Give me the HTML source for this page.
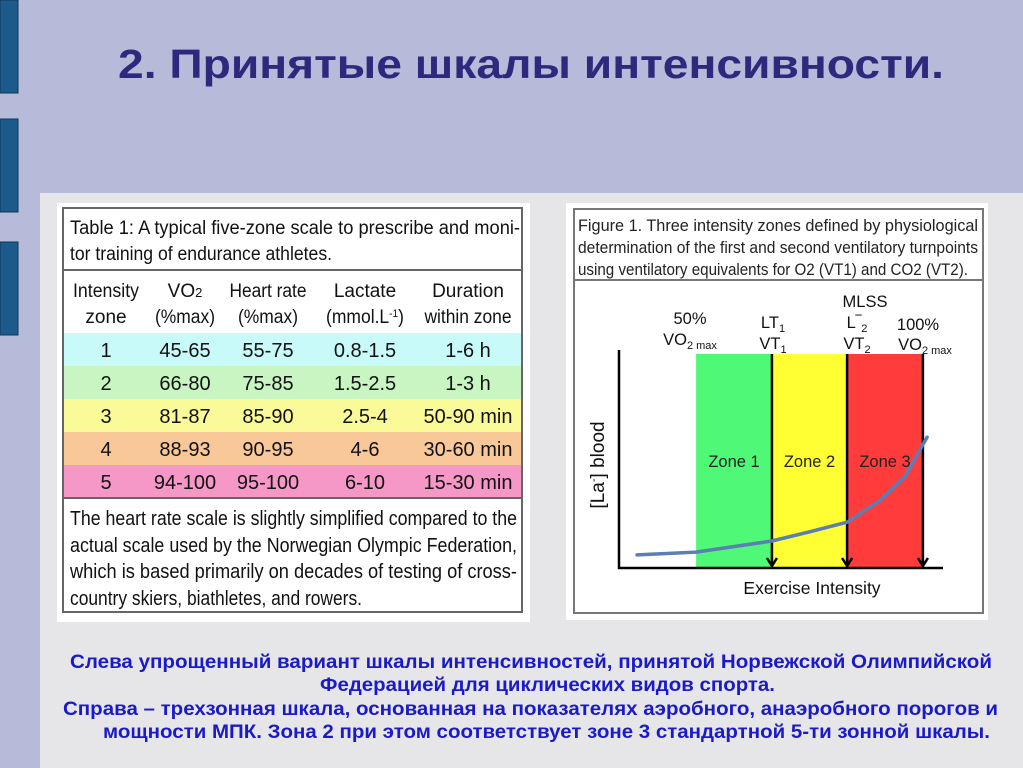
<!DOCTYPE html>
<html><head><meta charset="utf-8"><style>
html,body{margin:0;padding:0;background:#b6bbd9;}
svg{display:block;font-family:"Liberation Sans","DejaVu Sans",sans-serif;}
</style></head><body>
<svg width="1023" height="768" viewBox="0 0 1023 768" xmlns="http://www.w3.org/2000/svg">
<rect x="0" y="0" width="1023" height="768" fill="#b6bbd9"/>
<rect x="0" y="0" width="18" height="93" fill="#1d5a8c" stroke="#0e3556"/>
<rect x="0" y="119" width="18" height="93" fill="#1d5a8c" stroke="#0e3556"/>
<rect x="0" y="242" width="18" height="93" fill="#1d5a8c" stroke="#0e3556"/>
<text x="118" y="78" font-size="41" font-weight="bold" fill="#2d2a7e" textLength="826" lengthAdjust="spacingAndGlyphs">2. Принятые шкалы интенсивности.</text>
<rect x="40" y="193" width="983" height="575" fill="#e6e6e8"/>

<!-- Table -->
<g font-size="19" fill="#111">
<rect x="57" y="203" width="473" height="419" fill="#fff"/>
<rect x="63" y="333" width="459" height="33" fill="#c9fafa"/>
<rect x="63" y="366" width="459" height="33" fill="#c9f5c3"/>
<rect x="63" y="399" width="459" height="33" fill="#fafa98"/>
<rect x="63" y="432" width="459" height="33" fill="#f8c898"/>
<rect x="63" y="465" width="459" height="33" fill="#f598c8"/>
<rect x="63" y="208" width="459" height="404" fill="none" stroke="#666" stroke-width="2"/>
<line x1="63" y1="270" x2="522" y2="270" stroke="#666" stroke-width="2"/>
<line x1="63" y1="498" x2="522" y2="498" stroke="#666" stroke-width="2"/>
<text x="70" y="234" textLength="450" lengthAdjust="spacingAndGlyphs">Table 1: A typical five-zone scale to prescribe and moni-</text>
<text x="70" y="260" textLength="262" lengthAdjust="spacingAndGlyphs">tor training of endurance athletes.</text>
<g text-anchor="middle">
<text x="106" y="297" textLength="66" lengthAdjust="spacingAndGlyphs">Intensity</text><text x="106" y="323">zone</text>
<text x="185" y="297">VO<tspan font-size="13">2</tspan></text><text x="185" y="323" textLength="60" lengthAdjust="spacingAndGlyphs">(%max)</text>
<text x="268" y="297" textLength="77" lengthAdjust="spacingAndGlyphs">Heart rate</text><text x="268" y="323" textLength="60" lengthAdjust="spacingAndGlyphs">(%max)</text>
<text x="365" y="297">Lactate</text><text x="365" y="323" textLength="78" lengthAdjust="spacingAndGlyphs">(mmol.L<tspan font-size="11" dy="-6">-1</tspan><tspan dy="6">)</tspan></text>
<text x="468" y="297">Duration</text><text x="468" y="323" textLength="87" lengthAdjust="spacingAndGlyphs">within zone</text>
</g>
<g text-anchor="middle" font-size="20">
<text y="357"><tspan x="106">1</tspan><tspan x="185">45-65</tspan><tspan x="268">55-75</tspan><tspan x="365">0.8-1.5</tspan><tspan x="468">1-6 h</tspan></text>
<text y="390"><tspan x="106">2</tspan><tspan x="185">66-80</tspan><tspan x="268">75-85</tspan><tspan x="365">1.5-2.5</tspan><tspan x="468">1-3 h</tspan></text>
<text y="423"><tspan x="106">3</tspan><tspan x="185">81-87</tspan><tspan x="268">85-90</tspan><tspan x="365">2.5-4</tspan><tspan x="468">50-90 min</tspan></text>
<text y="456"><tspan x="106">4</tspan><tspan x="185">88-93</tspan><tspan x="268">90-95</tspan><tspan x="365">4-6</tspan><tspan x="468">30-60 min</tspan></text>
<text y="489"><tspan x="106">5</tspan><tspan x="185">94-100</tspan><tspan x="268">95-100</tspan><tspan x="365">6-10</tspan><tspan x="468">15-30 min</tspan></text>
</g>
<g font-size="20">
<text x="70" y="525" textLength="447" lengthAdjust="spacingAndGlyphs">The heart rate scale is slightly simplified compared to the</text>
<text x="70" y="552" textLength="447" lengthAdjust="spacingAndGlyphs">actual scale used by the Norwegian Olympic Federation,</text>
<text x="70" y="578" textLength="447" lengthAdjust="spacingAndGlyphs">which is based primarily on decades of testing of cross-</text>
<text x="70" y="605" textLength="292" lengthAdjust="spacingAndGlyphs">country skiers, biathletes, and rowers.</text>
</g>
</g>

<!-- Figure -->
<g>
<rect x="566" y="203" width="422" height="417" fill="#fff"/>
<rect x="574" y="209" width="409" height="404" fill="none" stroke="#777" stroke-width="2"/>
<line x1="574" y1="280" x2="983" y2="280" stroke="#777" stroke-width="2"/>
<g font-size="16.5" fill="#222">
<text x="578" y="231" textLength="400" lengthAdjust="spacingAndGlyphs">Figure 1. Three intensity zones defined by physiological</text>
<text x="578" y="253" textLength="400" lengthAdjust="spacingAndGlyphs">determination of the first and second ventilatory turnpoints</text>
<text x="578" y="275" textLength="390" lengthAdjust="spacingAndGlyphs">using ventilatory equivalents for O2 (VT1) and CO2 (VT2).</text>
</g>
<g id="chart"></g>
</g>

<g font-size="19" font-weight="bold" fill="#1a1ac8">
<text x="70" y="668" textLength="922" lengthAdjust="spacingAndGlyphs">Слева упрощенный вариант шкалы интенсивностей, принятой Норвежской Олимпийской</text>
<text x="320" y="691" textLength="455" lengthAdjust="spacingAndGlyphs">Федерацией для циклических видов спорта.</text>
<text x="63" y="715" textLength="935" lengthAdjust="spacingAndGlyphs">Справа – трехзонная шкала, основанная на показателях аэробного, анаэробного порогов и</text>
<text x="103" y="738" textLength="887" lengthAdjust="spacingAndGlyphs">мощности МПК. Зона 2 при этом соответствует зоне 3 стандартной 5-ти зонной шкалы.</text>
</g>
</svg>
<script>
const zoneNames = ["Zone 1", "Zone 2", "Zone 3"];
const zoneBounds = [23.8, 47.2, 70.4, 93.8];
const zoneColors = ["#4ff977", "#ffff33", "#ff3b3b"];
const curveIntensity = [5.6, 23.8, 47.2, 58.6, 70.4, 80.6, 88.3, 95.1];
const curveLactate = [0.6, 0.73, 1.24, 1.65, 2.1, 3.1, 4.2, 6.0];

const NS = "http://www.w3.org/2000/svg";
const g = document.getElementById("chart");
const X0 = 619, X1 = 943, Y0 = 568, Y1 = 350, ZTOP = 354;
const sx = v => X0 + (v / 100) * (X1 - X0);
const sy = v => Y0 - (v / 10) * (Y0 - Y1);
function mk(tag, attrs, parent) {
  const e = document.createElementNS(NS, tag);
  for (const k in attrs) e.setAttribute(k, attrs[k]);
  (parent || g).appendChild(e);
  return e;
}
for (let i = 0; i < zoneNames.length; i++) {
  const r = mk("rect", {x: sx(zoneBounds[i]), y: ZTOP, width: sx(zoneBounds[i+1]) - sx(zoneBounds[i]), height: Y0 - ZTOP, fill: zoneColors[i]});
  
  
  const t = mk("text", {x: (sx(zoneBounds[i]) + sx(zoneBounds[i+1])) / 2, y: 467, "text-anchor": "middle", "font-size": 16.5, fill: "#222"});
  t.textContent = zoneNames[i];
  
  
}
for (let i = 1; i < zoneBounds.length; i++) {
  const x = sx(zoneBounds[i]);
  const l = mk("line", {x1: x, y1: ZTOP, x2: x, y2: Y0 - 2, stroke: "#000", "stroke-width": 2.5});
  
  
  const h = mk("polyline", {points: `${x-5},${Y0-10} ${x},${Y0-2} ${x+5},${Y0-10}`, fill: "none", stroke: "#000", "stroke-width": 2.5});
  
  
}
const ax = mk("polyline", {points: `${X0},${Y1} ${X0},${Y0} ${X1},${Y0}`, fill: "none", stroke: "#000", "stroke-width": 2.5});


let d = "";
curveIntensity.forEach((v, i) => { d += (i ? " L" : "M") + sx(v).toFixed(1) + "," + sy(curveLactate[i]).toFixed(1); });
const p = mk("path", {d: d, fill: "none", stroke: "#5b7fb5", "stroke-width": 3.5, "stroke-linejoin": "round", "stroke-linecap": "round"});


const labels = [
  [690, 324, "50%"], [690, 345, "VO", "2 max"],
  [773, 328, "LT", "1"], [773, 349, "VT", "1"],
  [865, 307, "MLSS"], [857, 328, "L‾", "2"], [857, 349, "VT", "2"],
  [918, 330, "100%"], [925, 350, "VO", "2 max"]
];
labels.forEach((L, i) => {
  const t = mk("text", {x: L[0], y: L[1], "text-anchor": "middle", "font-size": 16.5, fill: "#111"});
  t.textContent = L[2];
  if (L[3]) { const s = mk("tspan", {"font-size": 11, dy: 4}, t); s.textContent = L[3]; }
  
  
});
const xl = mk("text", {x: 812, y: 594, "text-anchor": "middle", "font-size": 17.5, fill: "#111"});
xl.textContent = "Exercise Intensity";


const yl = mk("text", {x: 0, y: 0, "text-anchor": "middle", "font-size": 19, fill: "#111", transform: "translate(604,465) rotate(-90)"});
yl.textContent = "[La";
const ys = mk("tspan", {"font-size": 11, dy: -7}, yl); ys.textContent = "-";
const ys2 = mk("tspan", {dy: 7}, yl); ys2.textContent = "] blood";


</script>
</body></html>
